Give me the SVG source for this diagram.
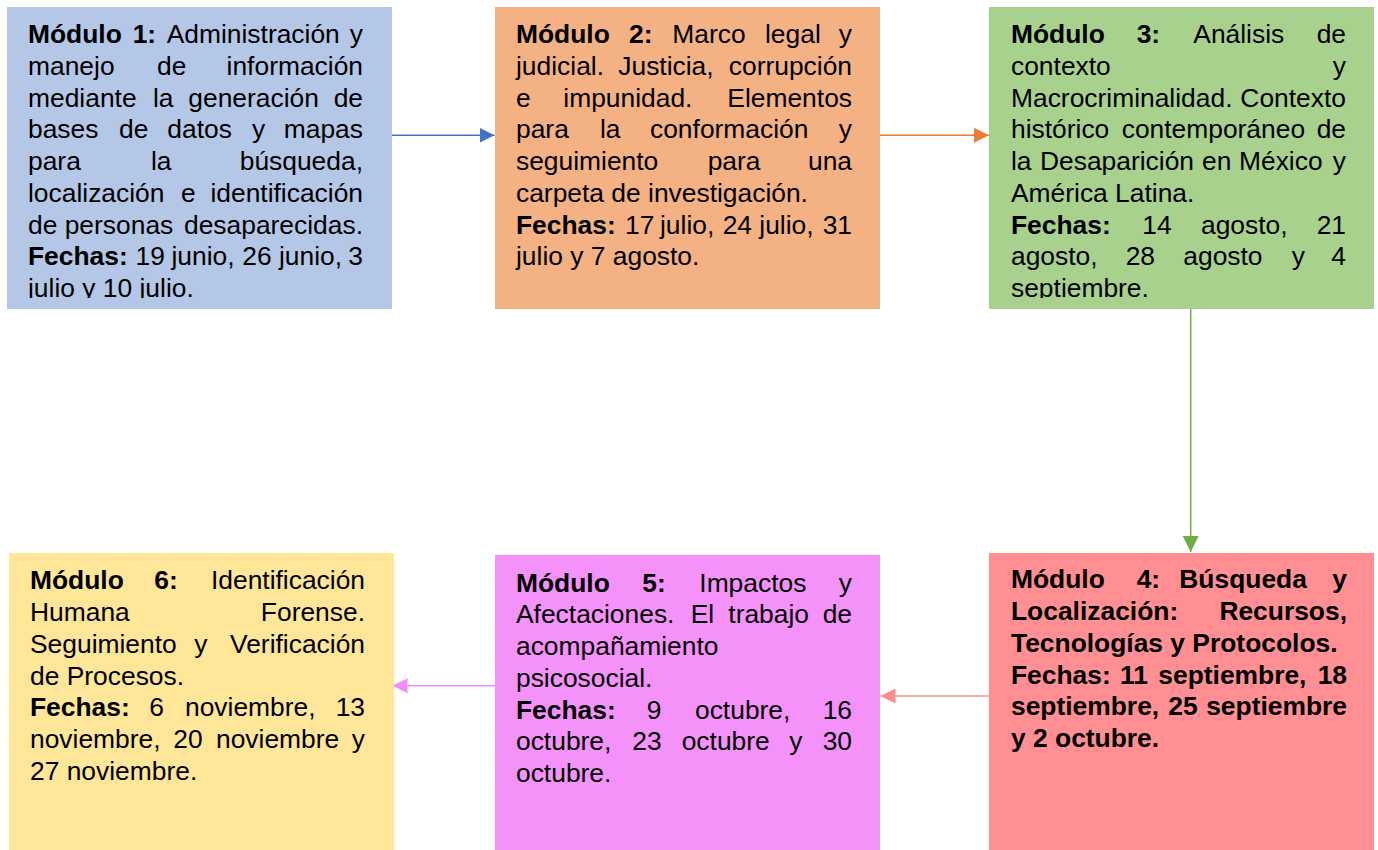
<svg xmlns="http://www.w3.org/2000/svg" width="1378" height="850" viewBox="0 0 1378 850">
<style>
text{font-family:"Liberation Sans",Arial,sans-serif;font-size:26.4px;fill:#000}
.b{font-weight:bold}
.e{text-anchor:end}
.c{fill:none;stroke-width:1.5}
</style>
<defs>
<marker id="aBlue" markerUnits="userSpaceOnUse" markerWidth="15" markerHeight="15" refX="15" refY="7.5" orient="auto"><path d="M0,0 L15,7.5 L0,15 z" fill="#4472C4"/></marker>
<marker id="aOrange" markerUnits="userSpaceOnUse" markerWidth="15" markerHeight="15" refX="15" refY="7.5" orient="auto"><path d="M0,0 L15,7.5 L0,15 z" fill="#ED7D31"/></marker>
<marker id="aGreen" markerUnits="userSpaceOnUse" markerWidth="16" markerHeight="16" refX="16" refY="8" orient="auto"><path d="M0,0 L16,8 L0,16 z" fill="#70AD47"/></marker>
<marker id="aPink" markerUnits="userSpaceOnUse" markerWidth="15" markerHeight="15" refX="15" refY="7.5" orient="auto"><path d="M0,0 L15,7.5 L0,15 z" fill="#FF8F8F"/></marker>
<marker id="aViolet" markerUnits="userSpaceOnUse" markerWidth="15" markerHeight="15" refX="15" refY="7.5" orient="auto"><path d="M0,0 L15,7.5 L0,15 z" fill="#F28CF7"/></marker>
<clipPath id="clip1"><rect x="7" y="7" width="385" height="291"/></clipPath>
<clipPath id="clip3"><rect x="989" y="7" width="385" height="291"/></clipPath>
</defs>

<g id="connectors">
<line class="c" x1="392" y1="135.3" x2="494.5" y2="135.3" stroke="#4472C4" marker-end="url(#aBlue)"/>
<line class="c" x1="880" y1="135.3" x2="989" y2="135.3" stroke="#ED7D31" marker-end="url(#aOrange)"/>
<line class="c" x1="1190.7" y1="309" x2="1190.7" y2="552" stroke="#70AD47" marker-end="url(#aGreen)"/>
<line class="c" x1="989" y1="696" x2="880.5" y2="696" stroke="#FF8F8F" marker-end="url(#aPink)"/>
<line class="c" x1="495" y1="685.7" x2="392.5" y2="685.7" stroke="#F28CF7" marker-end="url(#aViolet)"/>
</g>

<g id="modulo1">
<rect x="7" y="7" width="385" height="302" fill="#B4C7E7"/>
<g clip-path="url(#clip1)">
<text x="28" y="43" class="b">Módulo</text><text x="132.7" y="43" class="b">1:</text><text x="166.7" y="43">Administración</text><text x="363" y="43" class="e">y</text>
<text x="28" y="74.75">manejo</text><text x="157" y="74.75">de</text><text x="363" y="74.75" class="e">información</text>
<text x="28" y="106.5">mediante</text><text x="153" y="106.5">la</text><text x="188.3" y="106.5">generación</text><text x="363" y="106.5" class="e">de</text>
<text x="28" y="138.25">bases</text><text x="119" y="138.25">de</text><text x="167.3" y="138.25">datos</text><text x="252" y="138.25">y</text><text x="363" y="138.25" class="e">mapas</text>
<text x="28" y="170">para</text><text x="151" y="170">la</text><text x="363" y="170" class="e">búsqueda,</text>
<text x="28" y="201.75">localización</text><text x="181" y="201.75">e</text><text x="363" y="201.75" class="e">identificación</text>
<text x="28" y="233.5">de personas</text><text x="363" y="233.5" class="e">desaparecidas.</text>
<text x="28" y="265.25" class="b">Fechas:</text><text x="135.5" y="265.25">19</text><text x="171.5" y="265.25">junio,</text><text x="242.3" y="265.25">26</text><text x="279" y="265.25">junio,</text><text x="363" y="265.25" class="e">3</text>
<text x="28" y="297">julio y 10 julio.</text>
</g>
</g>

<g id="modulo2">
<rect x="495" y="7" width="385" height="302" fill="#F4B183"/>
<text x="516" y="43" class="b">Módulo</text><text x="629" y="43" class="b">2:</text><text x="672.3" y="43">Marco</text><text x="765" y="43">legal</text><text x="852" y="43" class="e">y</text>
<text x="516" y="74.75">judicial.</text><text x="618.3" y="74.75">Justicia,</text><text x="852" y="74.75" class="e">corrupción</text>
<text x="516" y="106.5">e</text><text x="563.3" y="106.5">impunidad.</text><text x="852" y="106.5" class="e">Elementos</text>
<text x="516" y="138.25">para</text><text x="600" y="138.25">la</text><text x="650" y="138.25">conformación</text><text x="852" y="138.25" class="e">y</text>
<text x="516" y="170">seguimiento</text><text x="707.7" y="170">para</text><text x="852" y="170" class="e">una</text>
<text x="516" y="201.75">carpeta de investigación.</text>
<text x="516" y="233.5" class="b">Fechas:</text><text x="625" y="233.5">17</text><text x="660" y="233.5">julio,</text><text x="722.7" y="233.5">24</text><text x="759.3" y="233.5">julio,</text><text x="852" y="233.5" class="e">31</text>
<text x="516" y="265.25">julio y 7 agosto.</text>
</g>

<g id="modulo3">
<rect x="989" y="7" width="385" height="302" fill="#A9D18E"/>
<g clip-path="url(#clip3)">
<text x="1011" y="43" class="b">Módulo</text><text x="1136.7" y="43" class="b">3:</text><text x="1193.3" y="43">Análisis</text><text x="1346" y="43" class="e">de</text>
<text x="1011" y="74.75">contexto</text><text x="1346" y="74.75" class="e">y</text>
<text x="1011" y="106.5">Macrocriminalidad.</text><text x="1346" y="106.5" class="e">Contexto</text>
<text x="1011" y="138.25">histórico</text><text x="1121.7" y="138.25">contemporáneo</text><text x="1346" y="138.25" class="e">de</text>
<text x="1011" y="170">la</text><text x="1040" y="170">Desaparición</text><text x="1202" y="170">en</text><text x="1239" y="170">México</text><text x="1346" y="170" class="e">y</text>
<text x="1011" y="201.75">América Latina.</text>
<text x="1011" y="233.5" class="b">Fechas:</text><text x="1142.3" y="233.5">14</text><text x="1201" y="233.5">agosto,</text><text x="1346" y="233.5" class="e">21</text>
<text x="1011" y="265.25">agosto,</text><text x="1125.7" y="265.25">28</text><text x="1183.3" y="265.25">agosto</text><text x="1291.7" y="265.25">y</text><text x="1346" y="265.25" class="e">4</text>
<text x="1011" y="297">septiembre.</text>
</g>
</g>

<g id="modulo4">
<rect x="989" y="553" width="385" height="297" fill="#FF8F93"/>
<text x="1011" y="588.3" class="b">Módulo</text><text x="1136.7" y="588.3" class="b">4:</text><text x="1179.3" y="588.3" class="b">Búsqueda</text><text x="1347" y="588.3" class="b e">y</text>
<text x="1011" y="620" class="b">Localización:</text><text x="1347" y="620" class="b e">Recursos,</text>
<text x="1011" y="651.8" class="b">Tecnologías y Protocolos.</text>
<text x="1011" y="683.5" class="b">Fechas:</text><text x="1120" y="683.5" class="b">11</text><text x="1158.3" y="683.5" class="b">septiembre,</text><text x="1347" y="683.5" class="b e">18</text>
<text x="1011" y="715.3" class="b">septiembre,</text><text x="1168.3" y="715.3" class="b">25</text><text x="1347" y="715.3" class="b e">septiembre</text>
<text x="1011" y="747" class="b">y 2 octubre.</text>
</g>

<g id="modulo5">
<rect x="495" y="555" width="385" height="295" fill="#F492FA"/>
<text x="516" y="591.7" class="b">Módulo</text><text x="642.3" y="591.7" class="b">5:</text><text x="699.3" y="591.7">Impactos</text><text x="852" y="591.7" class="e">y</text>
<text x="516" y="623.4">Afectaciones.</text><text x="690.7" y="623.4">El</text><text x="728.3" y="623.4">trabajo</text><text x="852" y="623.4" class="e">de</text>
<text x="516" y="655.2">acompañamiento</text>
<text x="516" y="686.9">psicosocial.</text>
<text x="516" y="718.7" class="b">Fechas:</text><text x="646.7" y="718.7">9</text><text x="695" y="718.7">octubre,</text><text x="852" y="718.7" class="e">16</text>
<text x="516" y="750.4">octubre,</text><text x="632.3" y="750.4">23</text><text x="681.7" y="750.4">octubre</text><text x="789.3" y="750.4">y</text><text x="852" y="750.4" class="e">30</text>
<text x="516" y="782">octubre.</text>
</g>

<g id="modulo6">
<rect x="9" y="553" width="385" height="297" fill="#FFE699"/>
<text x="30" y="589.3" class="b">Módulo</text><text x="154.3" y="589.3" class="b">6:</text><text x="365" y="589.3" class="e">Identificación</text>
<text x="30" y="621">Humana</text><text x="365" y="621" class="e">Forense.</text>
<text x="30" y="652.8">Seguimiento</text><text x="194.3" y="652.8">y</text><text x="365" y="652.8" class="e">Verificación</text>
<text x="30" y="684.5">de Procesos.</text>
<text x="30" y="716.3" class="b">Fechas:</text><text x="149.3" y="716.3">6</text><text x="185" y="716.3">noviembre,</text><text x="365" y="716.3" class="e">13</text>
<text x="30" y="748">noviembre,</text><text x="173.3" y="748">20</text><text x="216" y="748">noviembre</text><text x="365" y="748" class="e">y</text>
<text x="30" y="779.8">27 noviembre.</text>
</g>
</svg>
